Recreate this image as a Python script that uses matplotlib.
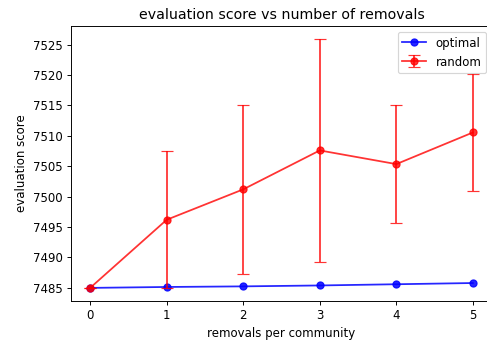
import numpy as np
import matplotlib.pyplot as plt
from matplotlib.ticker import MultipleLocator

removals = [0, 1, 2, 3, 4, 5]
optimal_scores = [7485.0, 7485.15, 7485.25, 7485.4, 7485.6, 7485.8]
random_scores = [7485.0, 7496.2, 7501.2, 7507.6, 7505.35, 7510.55]
random_err = [0.0, 11.3, 13.9, 18.4, 9.75, 9.55]

fig = plt.figure(figsize=(487 / 85, 343 / 85), dpi=85)
ax = fig.add_axes([71 / 487, 42 / 343, 421 / 487, 275 / 343])

ax.plot(removals, optimal_scores, '-o', color='blue', alpha=0.85, label='optimal')
ax.errorbar(removals, random_scores, yerr=random_err, fmt='-o', color='red',
            alpha=0.8, capsize=5, label='random')

ax.yaxis.set_major_locator(MultipleLocator(5))
ax.set_title('evaluation score vs number of removals')
ax.set_xlabel('removals per community')
ax.set_ylabel('evaluation score')
ax.legend(loc='upper right')

fig.savefig('out.png', dpi=85)
